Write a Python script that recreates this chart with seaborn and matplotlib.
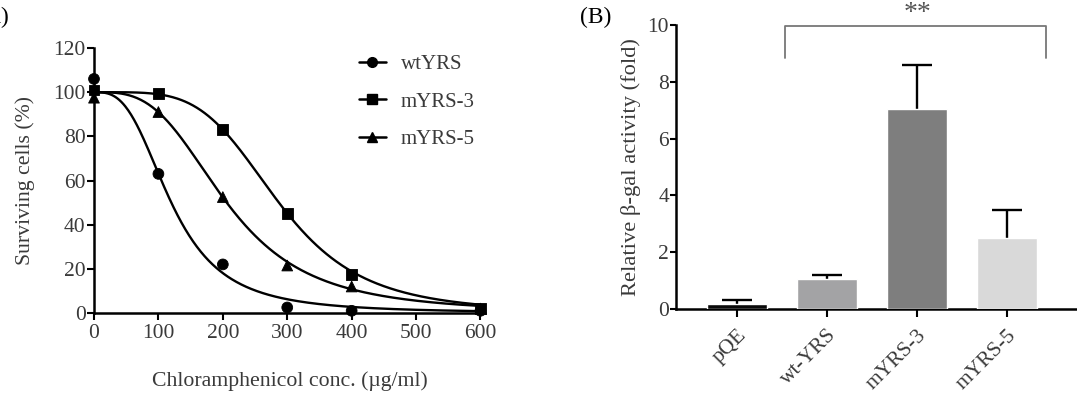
import numpy as np
import pandas as pd
import matplotlib
matplotlib.use("Agg")
import matplotlib.pyplot as plt
import seaborn as sns

# ---- dados do painel A (sobrevivencia) ----
conc = [0, 100, 200, 300, 400, 600]
wt_yrs = [106, 63, 22, 2.5, 1, 1]
myrs_3 = [101, 99.5, 83, 45, 17.5, 2]
myrs_5 = [97.5, 91, 52.5, 21.5, 12, 2]
series_names = ["wtYRS", "mYRS-3", "mYRS-5"]
series_markers = ["o", "s", "^"]
# parametros do ajuste dose-resposta (IC50, inclinacao de Hill)
fit_ic50 = [120, 287, 206]
fit_hill = [2.96, 4.4, 3.19]

# ---- dados do painel B (beta-gal) ----
groups = ["pQE", "wt-YRS", "mYRS-3", "mYRS-5"]
activity = [0.16, 1.05, 7.05, 2.5]
activity_err = [0.15, 0.13, 1.55, 1.0]
bar_colors = ["#0a0a0a", "#a3a3a5", "#7e7e7e", "#d9d9d9"]

sns.set_style("ticks")
plt.rcParams["font.family"] = ["Liberation Serif", "DejaVu Serif"]
txt = "#3a3a3a"

fig = plt.figure(figsize=(10.77, 3.94), dpi=100)
ax1 = fig.add_axes([94 / 1077, 1 - 313 / 394, 391 / 1077, 265 / 394])
ax2 = fig.add_axes([676 / 1077, 1 - 309 / 394, 401 / 1077, 284 / 394])

# ---- painel A ----
df = pd.DataFrame({
    "conc": conc * 3,
    "surv": wt_yrs + myrs_3 + myrs_5,
    "grupo": np.repeat(series_names, len(conc)),
})
xs = np.linspace(0.5, 600, 400)
for name, mk, ic, h in zip(series_names, series_markers, fit_ic50, fit_hill):
    curve = 100 / (1 + (xs / ic) ** h)
    ax1.plot(xs, curve, color="black", lw=1.7, clip_on=False)
    ax1.plot([], [], color="black", lw=1.8, marker=mk, ms=7, label=name)
sns.scatterplot(data=df, x="conc", y="surv", style="grupo", markers=dict(zip(series_names, series_markers)),
                color="black", s=60, edgecolor="black", ax=ax1, legend=False, clip_on=False, zorder=5)

ax1.set_xlim(0, 607)
ax1.set_ylim(0, 120)
ax1.set_xticks([0, 100, 200, 300, 400, 500, 600])
ax1.set_yticks([0, 20, 40, 60, 80, 100, 120])
ax1.set_xlabel("Chloramphenicol conc. (\u00b5g/ml)", fontsize=15.7, color=txt, labelpad=20)
ax1.set_ylabel("Surviving cells (%)", fontsize=15.7, color=txt, labelpad=13)
ax1.tick_params(labelsize=15.5, colors=txt, width=1.5, color="black")
ax1.tick_params(axis="x", length=5, pad=3)
ax1.tick_params(axis="y", length=5, pad=1)
for s in ["left", "bottom"]:
    ax1.spines[s].set_linewidth(1.8)
    ax1.spines[s].set_color("black")
sns.despine(ax=ax1)
ax1.legend(loc="upper left", bbox_to_anchor=(0.64, 1.03), frameon=False, fontsize=15,
           handlelength=1.3, labelspacing=0.85, handletextpad=0.7, labelcolor=txt,
           borderaxespad=0.3)

# ---- painel B ----
dfb = pd.DataFrame({"grupo": groups, "atividade": activity})
sns.barplot(data=dfb, x="grupo", y="atividade", hue="grupo", palette=bar_colors,
            width=0.66, legend=False, ax=ax2, saturation=1, zorder=3)
# barras de erro so para cima
tops = np.array(activity) + np.array(activity_err)
pos = np.arange(len(groups))
ax2.vlines(pos, activity, tops, color="black", lw=1.7, zorder=2)
ax2.hlines(tops, pos - 0.17, pos + 0.17, color="black", lw=1.7, zorder=2)

ax2.set_xlim(-0.678, 3.778)
ax2.set_ylim(0, 10)
ax2.set_yticks([0, 2, 4, 6, 8, 10])
ax2.set_xlabel("")
ax2.set_ylabel("Relative \u03b2-gal activity (fold)", fontsize=16.2, color=txt, labelpad=5)
ax2.set_xticks(pos)
ax2.set_xticklabels(groups, rotation=45, ha="right", rotation_mode="anchor")
ax2.tick_params(labelsize=15.5, colors=txt, width=1.5, color="black")
ax2.tick_params(axis="x", length=6, pad=6)
ax2.tick_params(axis="y", length=4, pad=1)
for s in ["left", "bottom"]:
    ax2.spines[s].set_linewidth(1.8)
    ax2.spines[s].set_color("black")
sns.despine(ax=ax2)

# colchete de significancia
ax2.plot([0.533, 0.533, 3.433, 3.433], [8.84, 9.96, 9.96, 8.84], color="#777777", lw=1.3, clip_on=False)
ax2.text(2.01, 10.18, "**", ha="center", va="baseline", fontsize=20, color="#555555")

fig.text(-0.0225, 0.955, "(A)", fontsize=17, color="black", ha="left", va="center")
fig.text(580 / 1077, 0.955, "(B)", fontsize=17, color="black", ha="left", va="center")

fig.savefig("out.png", dpi=100)
